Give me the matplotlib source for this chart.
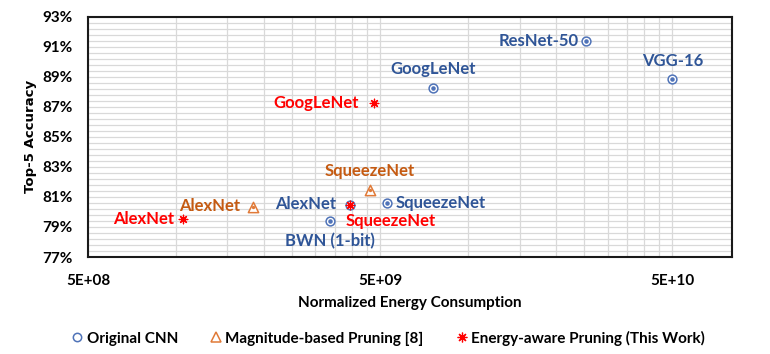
import matplotlib.pyplot as plt
from matplotlib.ticker import FixedLocator, NullFormatter, FuncFormatter
from matplotlib.lines import Line2D

plt.rcParams['font.family'] = ['Lato', 'DejaVu Sans']
plt.rcParams['font.weight'] = 'bold'

# Original CNN
orig_names = ['ResNet-50', 'VGG-16', 'GoogLeNet', 'SqueezeNet', 'AlexNet', 'BWN (1-bit)']
orig_energy = [2.54e10, 5.0e10, 7.6e9, 5.26e9, 3.95e9, 3.37e9]
orig_acc = [91.38, 88.83, 88.27, 80.60, 80.45, 79.40]

# Magnitude-based Pruning [8]
mag_names = ['AlexNet', 'SqueezeNet']
mag_energy = [1.84e9, 4.6e9]
mag_acc = [80.35, 81.46]

# Energy-aware Pruning (This Work)
ea_names = ['AlexNet', 'SqueezeNet', 'GoogLeNet']
ea_energy = [1.06e9, 3.95e9, 4.75e9]
ea_acc = [79.53, 80.45, 87.28]

blue_m, blue_t = '#4F73B8', '#2F5597'
orange_m, orange_t = '#E07A38', '#C55A11'
red = '#FF0000'

# label offsets in pixels (dx, dy, ha)
orig_off = [(-8, 0, 'right'), (0, 18, 'center'), (0, 19, 'center'),
            (9, 0, 'left'), (-14, 1, 'right'), (0, -20, 'center')]
mag_off = [(-13, 1, 'right'), (0, 19, 'center')]
ea_off = [(-9, 0, 'right'), (-5, -16, 'left'), (-15, 0, 'right')]

fig = plt.figure(figsize=(7.7, 3.54), dpi=100)
ax = fig.add_axes([0.1143, 0.274, 0.8363, 0.679])

# markers
ax.scatter(orig_energy, orig_acc, s=40, facecolor='white', edgecolor=blue_m, linewidth=1.1, zorder=3)
ax.scatter(orig_energy, orig_acc, s=5, color=blue_m, zorder=4)
ax.scatter(mag_energy, mag_acc, s=55, marker='^', facecolor='white', edgecolor=orange_m, linewidth=1.1, zorder=3)
ax.scatter(mag_energy, mag_acc, s=2, color=orange_m, zorder=4)
ax.scatter(ea_energy, ea_acc, s=38, marker=(8, 2, 0), color=red, linewidth=0.9, zorder=5)

def put_labels(names, xs, ys, offs, color):
    for n, x, y, (dx, dy, ha) in zip(names, xs, ys, offs):
        ax.annotate(n, (x, y), xytext=(dx * 0.72, dy * 0.72), textcoords='offset points',
                    ha=ha, va='center', color=color, fontsize=12, fontweight='bold', zorder=6)

put_labels(orig_names, orig_energy, orig_acc, orig_off, blue_t)
put_labels(mag_names, mag_energy, mag_acc, mag_off, orange_t)
put_labels(ea_names, ea_energy, ea_acc, ea_off, red)

ax.set_xscale('log')
ax.set_xlim(5e8, 8e10)
ax.set_ylim(77, 93)

ax.xaxis.set_major_locator(FixedLocator([5e8, 5e9, 5e10]))
ax.xaxis.set_major_formatter(FuncFormatter(lambda v, p: {5e8: '5E+08', 5e9: '5E+09', 5e10: '5E+10'}.get(v, '')))
minor_x = [k * d for d in (5e8, 5e9, 5e10) for k in range(1, 10)]
ax.xaxis.set_minor_locator(FixedLocator([v for v in minor_x if v <= 8e10]))
ax.xaxis.set_minor_formatter(NullFormatter())

ax.set_yticks(range(77, 94, 2))
ax.set_yticklabels([f'{v}%' for v in range(77, 94, 2)])
ax.yaxis.set_minor_locator(FixedLocator([77 + 0.4 * i for i in range(41)]))

ax.grid(True, which='both', color='#D9D9D9', linewidth=0.9)
ax.set_axisbelow(True)
ax.tick_params(which='both', length=0)
ax.tick_params(axis='x', pad=12, labelsize=11)
ax.tick_params(axis='y', pad=11, labelsize=11)
for s in ax.spines.values():
    s.set_color('#1A1A1A')
    s.set_linewidth(1.5)

ax.set_xlabel('Normalized Energy Consumption', fontsize=11, fontweight='bold', labelpad=6)
ax.set_ylabel('Top-5 Accuracy', fontsize=9.5, fontweight='bold', family='DejaVu Sans', labelpad=4)

handles = [
    Line2D([], [], marker='o', ls='', ms=6, mfc='white', mec=blue_m, mew=1.1),
    Line2D([], [], marker='^', ls='', ms=7, mfc='white', mec=orange_m, mew=1.1),
    Line2D([], [], marker=(8, 2, 0), ls='', ms=7, color=red, mew=0.9),
]
fig.legend(handles, ['Original CNN', 'Magnitude-based Pruning [8]', 'Energy-aware Pruning (This Work)'],
           loc='center', bbox_to_anchor=(0.503, 0.045), ncol=3, frameon=False,
           prop={'weight': 'bold', 'size': 11}, handletextpad=0.1, columnspacing=2.0, handlelength=1.0)

fig.savefig('out.png', dpi=100)
